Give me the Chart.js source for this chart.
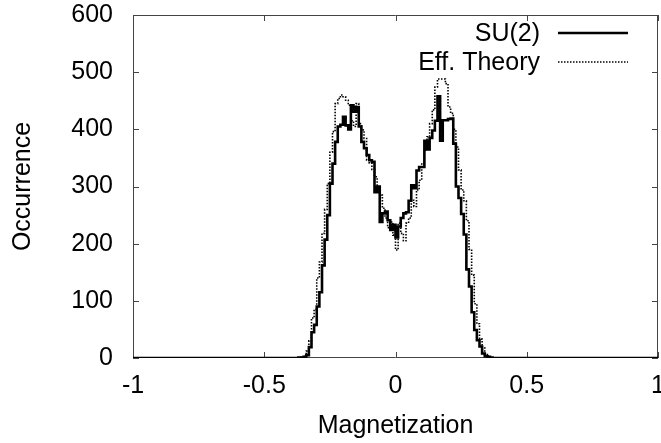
<!DOCTYPE html>
<html><head><meta charset="utf-8">
<script src="https://cdn.jsdelivr.net/npm/chart.js@4/dist/chart.umd.min.js"></script>
<style>html,body{margin:0;padding:0;background:#fff}#wrap{width:661px;height:443px}</style>
</head><body><div id="wrap"><canvas id="c" width="661" height="443"></canvas></div>
<script>
// left edge of each 0.01-wide magnetization bin
const magnetization = [
 -0.38,-0.37,-0.36,-0.35,-0.34,-0.33,-0.32,-0.31,-0.30,-0.29,
 -0.28,-0.27,-0.26,-0.25,-0.24,-0.23,-0.22,-0.21,-0.20,-0.19,
 -0.18,-0.17,-0.16,-0.15,-0.14,-0.13,-0.12,-0.11,-0.10,-0.09,
 -0.08,-0.07,-0.06,-0.05,-0.04,-0.03,-0.02,-0.01,
  0.00, 0.01, 0.02, 0.03, 0.04, 0.05, 0.06, 0.07, 0.08, 0.09,
  0.10, 0.11, 0.12, 0.13, 0.14, 0.15, 0.16, 0.17, 0.18, 0.19,
  0.20, 0.21, 0.22, 0.23, 0.24, 0.25, 0.26, 0.27, 0.28, 0.29,
  0.30, 0.31, 0.32, 0.33, 0.34, 0.35, 0.36, 0.37, 0.38
];
const su2Counts = [
 0,1,1,2,5,19,45,58,90,115,
 162,207,250,305,340,378,405,408,422,407,
 400,442,431,439,405,378,367,355,346,343,
 290,300,238,253,256,241,224,233,
 211,230,245,253,255,275,302,297,328,334,
 334,380,365,385,398,415,458,380,416,416,
 418,419,375,300,280,252,216,155,125,80,
 49,31,20,8,3,2,1,0,0
];
const effCounts = [
 0,1,2,4,12,30,70,85,140,168,
 218,260,305,360,396,445,454,460,457,451,
 442,415,405,445,410,399,384,346,341,330,
 317,300,285,262,245,228,238,215,
 189,236,218,205,236,245,276,265,294,311,
 341,364,387,410,434,474,488,488,488,480,
 439,428,400,369,329,294,275,240,190,145,
 95,60,33,18,8,3,1,0,0
];
const xRange = [-1, 1];
const xTickValues = [-1, -0.5, 0, 0.5, 1];
const xTickLabels = ['-1', '-0.5', '0', '0.5', '1'];
const yTickValues = [0, 100, 200, 300, 400, 500, 600];
const yTickLabels = ['0', '100', '200', '300', '400', '500', '600'];
const seriesNames = ['SU(2)', 'Eff. Theory'];
const xTitle = 'Magnetization';
const yTitle = 'Occurrence';

function toPoints(counts){
  const pts = [{x: xRange[0], y: 0}];
  magnetization.forEach((m, i) => pts.push({x: m, y: counts[i]}));
  pts.push({x: xRange[1], y: 0});
  return pts;
}

const FONT = "'Liberation Sans', Arial, Helvetica, sans-serif";

const framePlugin = {
  id: 'frame',
  beforeDatasetsDraw(chart){
    const ctx = chart.ctx, a = chart.chartArea;
    const xs = chart.scales.x, ys = chart.scales.y;
    ctx.save();
    ctx.strokeStyle = '#444';
    ctx.lineWidth = 1;
    ctx.beginPath();
    ctx.rect(a.left + 0.5, a.top + 0.5, a.right - a.left - 1, a.bottom - a.top - 1);
    ctx.stroke();
    ctx.beginPath();
    yTickValues.forEach(v => {
      const y = Math.round(ys.getPixelForValue(v)) + 0.5;
      ctx.moveTo(a.left, y); ctx.lineTo(a.left + 6, y);
      ctx.moveTo(a.right, y); ctx.lineTo(a.right - 6, y);
    });
    xTickValues.forEach(v => {
      const x = Math.round(xs.getPixelForValue(v)) + 0.5;
      ctx.moveTo(x, a.bottom); ctx.lineTo(x, a.bottom - 6);
      ctx.moveTo(x, a.top); ctx.lineTo(x, a.top + 6);
    });
    ctx.stroke();
    ctx.restore();
  },
  afterDatasetsDraw(chart){
    const ctx = chart.ctx;
    ctx.save();
    ctx.font = '25px ' + FONT;
    ctx.fillStyle = '#000';
    ctx.textAlign = 'right';
    ctx.textBaseline = 'middle';
    chart.data.datasets.forEach((ds, i) => {
      const y = 33 + i * 29;
      ctx.fillText(ds.label, 540, y + 1);
      ctx.beginPath();
      ctx.strokeStyle = ds.borderColor;
      ctx.lineWidth = ds.borderWidth;
      ctx.setLineDash(ds.borderDash || []);
      ctx.moveTo(558, y); ctx.lineTo(628, y);
      ctx.stroke();
    });
    ctx.restore();
  }
};

new Chart(document.getElementById('c'), {
  type: 'line',
  data: {
    datasets: [
      {label: seriesNames[0], data: toPoints(su2Counts), stepped: 'before',
       borderColor: '#000', borderWidth: 2.6, pointRadius: 0, tension: 0, fill: false},
      {label: seriesNames[1], data: toPoints(effCounts), stepped: 'before',
       borderColor: '#000', borderWidth: 1.6, borderDash: [1.5, 1.5], pointRadius: 0, tension: 0, fill: false}
    ]
  },
  options: {
    responsive: false,
    animation: false,
    devicePixelRatio: 1,
    layout: {padding: {top: 15, right: 3, left: 0, bottom: 0}},
    plugins: {legend: {display: false}, tooltip: {enabled: false}},
    scales: {
      x: {
        type: 'linear', min: xRange[0], max: xRange[1],
        afterBuildTicks: s => { s.ticks = xTickValues.map(v => ({value: v})); },
        afterFit: s => { s.height = 85; s.paddingLeft = 0; s.paddingRight = 0; },
        grid: {display: false, drawTicks: false},
        border: {display: false},
        ticks: {autoSkip: false, maxRotation: 0, padding: 13, color: '#000',
                font: {family: FONT, size: 25},
                callback: v => xTickLabels[xTickValues.indexOf(v)]},
        title: {display: true, text: xTitle, color: '#000', font: {family: FONT, size: 25},
                padding: {top: 0, bottom: 2}}
      },
      y: {
        type: 'linear', min: 0, max: 600,
        afterBuildTicks: s => { s.ticks = yTickValues.map(v => ({value: v})); },
        afterFit: s => { s.width = 133; s.paddingTop = 0; s.paddingBottom = 0; },
        grid: {display: false, drawTicks: false},
        border: {display: false},
        ticks: {padding: 20, color: '#000', font: {family: FONT, size: 25},
                callback: v => yTickLabels[yTickValues.indexOf(v)]},
        title: {display: true, text: yTitle, color: '#000', font: {family: FONT, size: 25},
                padding: {top: 8, bottom: 0}}
      }
    }
  },
  plugins: [framePlugin]
});
</script>
</body></html>
